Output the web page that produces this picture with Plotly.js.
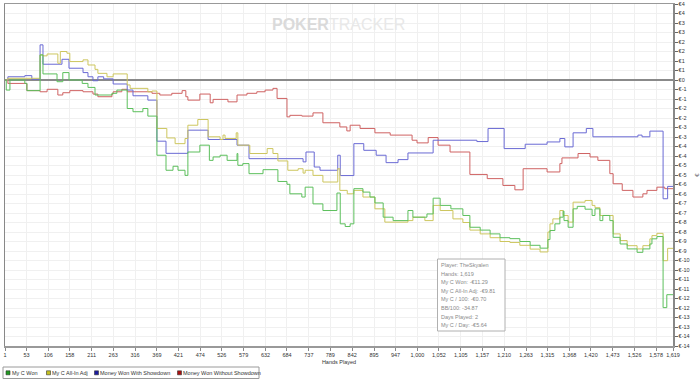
<!DOCTYPE html>
<html>
<head>
<meta charset="utf-8">
<script src="https://cdn.plot.ly/plotly-3.0.1.min.js"></script>
<style>html,body{margin:0;padding:0;background:#fff;}#chart{width:700px;height:379px;}</style>
</head>
<body>
<div id="chart"></div>
<script>
// ---------------- data ----------------
const seriesNames = ["My C Won", "My C All-In Adj", "Money Won With Showdown", "Money Won Without Showdown"];

const greenHands = [1,4,13,49,54,86,93,127,141,156,188,202,219,260,272,297,311,335,347,369,391,408,420,437,444,473,496,505,522,539,563,565,577,592,626,662,684,691,720,728,747,771,805,813,825,837,846,868,885,897,917,941,977,989,1023,1038,1055,1081,1110,1127,1152,1176,1200,1224,1248,1273,1297,1316,1321,1333,1345,1353,1355,1365,1377,1387,1406,1423,1430,1442,1449,1466,1474,1491,1508,1532,1546,1563,1568,1580,1595,1604,1619];
const greenVals  = [0,-0.53,0,-0.18,-0.56,1.32,0.32,-0.09,0.39,0,-0.18,-0.39,-0.79,-0.7,-0.53,-1.5,-1.67,-1.5,-1.9,-3.96,-4.75,-4.54,-4.75,-5.02,-3.79,-3.43,-4.23,-4.05,-3.96,-4.23,-3.87,-4.49,-4.4,-4.93,-4.72,-5.34,-5.49,-5.99,-6.16,-5.64,-6.52,-6.87,-5.95,-7.57,-7.71,-7.57,-5.72,-5.9,-6.16,-6.47,-7.22,-7.4,-6.87,-7.22,-7.05,-6.22,-6.6,-6.78,-7.13,-7.75,-7.9,-8.1,-8.3,-8.35,-8.5,-8.7,-8.85,-8.4,-7.92,-7.57,-7.22,-6.9,-7.4,-7.75,-6.78,-6.65,-6.8,-7.13,-6.78,-7.4,-7.13,-7.4,-8.28,-8.63,-8.89,-9.07,-8.89,-8.63,-8.36,-8.24,-11.98,-11.3,-11.3];

const yellowHands = [1,8,86,93,103,129,135,151,158,190,202,219,226,248,263,297,304,347,357,369,393,413,437,444,468,493,522,529,534,561,565,594,636,650,662,686,711,723,728,747,771,807,812,830,846,868,897,921,977,989,1018,1038,1055,1086,1110,1127,1152,1176,1200,1224,1248,1273,1297,1316,1321,1328,1345,1353,1365,1377,1406,1423,1430,1442,1474,1491,1508,1532,1546,1563,1568,1580,1595,1606,1619];
const yellowVals  = [0,0.09,1.32,1.27,1.37,0.88,1.5,1.41,0.97,1.06,0.79,0.56,0.35,0.17,0.32,-0.26,-0.44,-0.62,-0.58,-2.55,-3.05,-3.35,-3.08,-2.38,-2.08,-2.99,-3.13,-2.9,-3.08,-2.78,-3.43,-3.87,-3.61,-3.87,-4.26,-4.75,-4.67,-4.9,-4.75,-5.02,-5.37,-4.67,-5.81,-5.99,-5.81,-6.16,-6.78,-7.48,-7.4,-7.22,-7.4,-6.6,-6.87,-7.31,-7.5,-7.9,-8.1,-8.3,-8.5,-8.55,-8.7,-8.9,-9.05,-8.0,-7.57,-7.31,-6.87,-7.13,-7.48,-6.43,-6.34,-6.6,-6.72,-7.13,-8.1,-8.45,-8.72,-8.89,-8.72,-8.36,-8.19,-8.07,-9.51,-8.86,-8.86];

const blueHands = [1,8,49,66,86,93,139,156,190,202,214,226,240,263,297,311,347,369,391,444,493,563,592,723,730,750,764,807,813,846,870,900,924,953,977,1038,1144,1171,1210,1261,1314,1345,1357,1377,1409,1425,1534,1544,1563,1595,1606,1619];
const blueVals  = [0,0.17,0.23,0.04,1.85,0.83,1.09,0.62,0.39,0.17,-0.04,0.17,0.06,-0.21,-0.53,-0.83,-1.06,-3.22,-3.86,-2.64,-3.13,-3.43,-4.14,-4.31,-3.79,-4.58,-4.75,-3.96,-5.03,-3.35,-3.7,-3.96,-4.35,-4.19,-3.84,-3.17,-3.24,-2.55,-3.61,-3.38,-3.26,-3.08,-3.52,-2.78,-2.55,-2.99,-2.9,-2.99,-2.69,-6.25,-5.6,-5.6];

const redHands = [1,8,54,86,103,129,141,158,190,214,226,260,263,284,297,357,376,405,430,439,444,473,498,505,541,563,587,611,631,650,660,684,691,720,747,771,812,829,837,861,897,934,987,999,1026,1050,1079,1127,1169,1207,1236,1256,1314,1345,1350,1389,1418,1437,1466,1474,1496,1522,1546,1556,1580,1599,1619];
const redVals  = [0,-0.18,-0.56,-0.62,-0.49,-0.79,-0.67,-0.56,-0.62,-0.74,-0.88,-0.74,-0.62,-0.49,-0.62,-0.7,-0.79,-0.7,-0.56,-0.88,-1.06,-0.74,-1.2,-1.02,-1.15,-0.79,-0.7,-0.62,-0.53,-0.44,-0.97,-1.94,-1.86,-1.9,-1.73,-2.25,-2.47,-2.68,-2.38,-2.55,-2.78,-2.9,-3.17,-3.31,-3.03,-3.43,-3.79,-4.97,-5.19,-5.55,-5.78,-4.67,-4.84,-4.4,-4.1,-3.87,-4.05,-4.23,-4.93,-5.46,-5.81,-6.16,-5.99,-5.81,-5.64,-5.72,-5.72];

const xTickVals = [1,53,106,158,211,263,316,369,421,474,526,579,632,684,737,789,842,895,947,1000,1052,1105,1157,1210,1263,1315,1368,1420,1473,1526,1578,1619];
const xTickText = ["1","53","106","158","211","263","316","369","421","474","526","579","632","684","737","789","842","895","947","1,000","1,052","1,105","1,157","1,210","1,263","1,315","1,368","1,420","1,473","1,526","1,578","1,619"];

const yTickVals = [4,3.5,3,2.5,2,1.5,1,0.5,0,-0.5,-1,-1.5,-2,-2.5,-3,-3.5,-4,-4.5,-5,-5.5,-6,-6.5,-7,-7.5,-8,-8.5,-9,-9.5,-10,-10.5,-11,-11.5,-12,-12.5,-13,-13.5,-14];
const yTickText = ["€4","€4","€3","€3","€2","€2","€1","€1","€0","€-1","€-1","€-2","€-2","€-3","€-3","€-4","€-4","€-5","€-5","€-6","€-6","€-7","€-7","€-8","€-8","€-9","€-9","€-10","€-10","€-11","€-11","€-12","€-12","€-13","€-13","€-14","€-14"];

const infoLines = ["Player: TheSkyalen","Hands: 1,619","My C Won: -€11.29","My C All-In Adj: -€9.81","My C / 100: -€0.70","BB/100: -34.87","Days Played: 2","My C / Day: -€5.64"];

// ---------------- styles ----------------
const lineColors = ["#5cbf5c", "#cdc65e", "#6a6ad4", "#cf6262"];
const swatchColors = ["#1f9a1f", "#c4c020", "#1a1aa0", "#aa1010"];
const FONT = "Liberation Sans, Arial, sans-serif";

// plot area geometry (pixels) used for decorations
const L = 5, T = 4, PW = 668, PH = 342;
const px2x = p => (p - L) / PW;
const py2y = p => (T + PH - p) / PH;

const traces = [
  {x: redHands, y: redVals, name: seriesNames[3], color: lineColors[3]},
  {x: blueHands, y: blueVals, name: seriesNames[2], color: lineColors[2]},
  {x: yellowHands, y: yellowVals, name: seriesNames[1], color: lineColors[1]},
  {x: greenHands, y: greenVals, name: seriesNames[0], color: lineColors[0]}
].map(s => ({
  type: "scatter", mode: "lines", x: s.x, y: s.y, name: s.name,
  line: {color: s.color, width: 1, shape: "hv"},
  showlegend: false, hoverinfo: "skip"
}));

const annotations = [];
const shapes = [];

// watermark
annotations.push({
  xref: "paper", yref: "paper", x: px2x(338), y: py2y(25), xanchor: "center", yanchor: "middle",
  text: '<b><span style="color:#dadada">POKER</span></b><span style="color:#e8e8e8">TRACKER</span>',
  showarrow: false, font: {family: FONT, size: 16, color: "#e0e0e0"}
});

// legend (bottom-left)
shapes.push({type: "rect", xref: "paper", yref: "paper", x0: px2x(3), x1: px2x(259), y0: py2y(367), y1: py2y(378.5),
  line: {color: "#9a9a9a", width: 1}, fillcolor: "rgba(0,0,0,0)"});
const legSquareX = [6, 46.5, 94.5, 177.5];
const legTextX = [10.5, 51, 99, 182];
for (let i = 0; i < 4; i++) {
  shapes.push({type: "rect", xref: "paper", yref: "paper",
    x0: px2x(legSquareX[i]), x1: px2x(legSquareX[i] + 4), y0: py2y(370.8), y1: py2y(374.8),
    line: {color: "#333", width: 0.6}, fillcolor: swatchColors[i]});
  annotations.push({xref: "paper", yref: "paper", x: px2x(legTextX[i]), y: py2y(372.8), xanchor: "left", yanchor: "middle",
    text: seriesNames[i], showarrow: false, font: {family: FONT, size: 5.5, color: "#333"}, borderpad: 0});
}

// info box
shapes.push({type: "rect", xref: "paper", yref: "paper", x0: px2x(437.5), x1: px2x(505), y0: py2y(259), y1: py2y(331),
  line: {color: "#b0b0b0", width: 1}, fillcolor: "#ffffff", layer: "above"});
const infoY0 = 265, infoDY = 8.6;
infoLines.forEach((t, i) => {
  annotations.push({xref: "paper", yref: "paper", x: px2x(440), y: py2y(infoY0 + i * infoDY), xanchor: "left", yanchor: "middle",
    text: t, showarrow: false, font: {family: FONT, size: 5.5, color: "#8a8a8a"}, borderpad: 0});
});

const layout = {
  width: 700, height: 379,
  margin: {l: L, r: 700 - L - PW, t: T, b: 379 - T - PH, pad: 0},
  paper_bgcolor: "#ffffff", plot_bgcolor: "#ffffff",
  showlegend: false,
  font: {family: FONT, size: 5.5, color: "#333"},
  xaxis: {
    range: [1, 1619], tickmode: "array", tickvals: xTickVals, ticktext: xTickText,
    ticks: "outside", ticklen: 3, tickcolor: "#888", tickwidth: 1,
    showgrid: true, gridcolor: "#f0f0f0", gridwidth: 1,
    showline: true, linecolor: "#999", linewidth: 1.5, mirror: true,
    zeroline: false, tickfont: {family: FONT, size: 5.5, color: "#333"},
    title: {text: "Hands Played", font: {family: FONT, size: 5.5, color: "#333"}, standoff: 3},
    fixedrange: true
  },
  yaxis: {
    range: [-14, 4], side: "right", tickmode: "array", tickvals: yTickVals, ticktext: yTickText,
    ticks: "outside", ticklen: 3, tickcolor: "#666", tickwidth: 1,
    showgrid: true, gridcolor: "#f0f0f0", gridwidth: 1,
    showline: true, linecolor: "#888", linewidth: 1.5, mirror: true,
    zeroline: true, zerolinecolor: "#8a8a8a", zerolinewidth: 1.5,
    tickfont: {family: FONT, size: 5.5, color: "#333"},
    title: {text: "€", font: {family: FONT, size: 6, color: "#333"}, standoff: 6},
    fixedrange: true
  },
  annotations: annotations,
  shapes: shapes
};

Plotly.newPlot("chart", traces, layout, {displayModeBar: false, staticPlot: true});
</script>
</body>
</html>
